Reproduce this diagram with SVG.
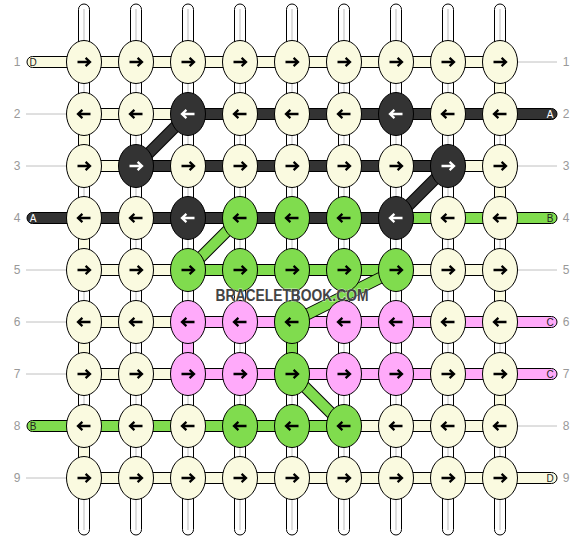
<svg xmlns="http://www.w3.org/2000/svg" xmlns:xlink="http://www.w3.org/1999/xlink" width="584" height="540" viewBox="0 0 584 540">
<style>
.c{fill:#FAFAE0}.k{fill:#333333}.g{fill:#80DC4E}.p{fill:#FFAAFA}
.s{stroke:#000;stroke-width:1}
.warp{fill:#fff;stroke:#000;stroke-width:1}
.wl{stroke:#c8c8c8;stroke-width:1.2}
.gl{stroke:#c0c0c0;stroke-width:1}
.lab{font-family:"Liberation Sans",Arial,sans-serif;font-size:12px;fill:#999;text-anchor:middle}
.el{font-family:"Liberation Sans",Arial,sans-serif;font-size:10px;text-anchor:middle}
.do{stroke:#000;stroke-width:12;stroke-linecap:butt}
use{stroke:#000}
.w use,use.w{stroke:#fff}
</style>
<defs>
<path id="ar" d="M-6.5,0H5.5M1.6,-4.2L6,0L1.6,4.2" fill="none" stroke-width="2.3"/>
<path id="al" d="M6.5,0H-5.5M-1.6,-4.2L-6,0L-1.6,4.2" fill="none" stroke-width="2.3"/>
</defs>
<rect width="584" height="540" fill="#fff"/>
<g id="warps">
<rect class="warp" x="78.5" y="4" width="11" height="531" rx="5.5"/><line class="wl" x1="84" y1="9" x2="84" y2="530"/>
<rect class="warp" x="130.5" y="4" width="11" height="531" rx="5.5"/><line class="wl" x1="136" y1="9" x2="136" y2="530"/>
<rect class="warp" x="182.5" y="4" width="11" height="531" rx="5.5"/><line class="wl" x1="188" y1="9" x2="188" y2="530"/>
<rect class="warp" x="234.5" y="4" width="11" height="531" rx="5.5"/><line class="wl" x1="240" y1="9" x2="240" y2="530"/>
<rect class="warp" x="286.5" y="4" width="11" height="531" rx="5.5"/><line class="wl" x1="292" y1="9" x2="292" y2="530"/>
<rect class="warp" x="338.5" y="4" width="11" height="531" rx="5.5"/><line class="wl" x1="344" y1="9" x2="344" y2="530"/>
<rect class="warp" x="390.5" y="4" width="11" height="531" rx="5.5"/><line class="wl" x1="396" y1="9" x2="396" y2="530"/>
<rect class="warp" x="442.5" y="4" width="11" height="531" rx="5.5"/><line class="wl" x1="448" y1="9" x2="448" y2="530"/>
<rect class="warp" x="494.5" y="4" width="11" height="531" rx="5.5"/><line class="wl" x1="500" y1="9" x2="500" y2="530"/>
</g>
<g id="connectors">
<!-- vertical turns -->
<rect class="c s" x="494.5" y="62" width="11" height="52"/>
<rect class="c s" x="78.5" y="114" width="11" height="52"/>
<rect class="c s" x="494.5" y="166" width="11" height="52"/>
<rect class="c s" x="78.5" y="218" width="11" height="52"/>
<rect class="c s" x="494.5" y="270" width="11" height="52"/>
<rect class="c s" x="78.5" y="322" width="11" height="52"/>
<rect class="c s" x="494.5" y="374" width="11" height="52"/>
<rect class="c s" x="78.5" y="426" width="11" height="52"/>
<rect class="g s" x="286.5" y="322" width="11" height="52"/>
<rect class="p s" x="182.5" y="322" width="11" height="52"/>
<!-- side lines -->
<line class="gl" x1="518" y1="62" x2="557" y2="62"/>
<line class="gl" x1="26" y1="114" x2="66" y2="114"/>
<line class="gl" x1="26" y1="166" x2="66" y2="166"/>
<line class="gl" x1="518" y1="166" x2="557" y2="166"/>
<line class="gl" x1="26" y1="270" x2="66" y2="270"/>
<line class="gl" x1="518" y1="270" x2="557" y2="270"/>
<line class="gl" x1="26" y1="322" x2="66" y2="322"/>
<line class="gl" x1="26" y1="374" x2="66" y2="374"/>
<line class="gl" x1="518" y1="426" x2="557" y2="426"/>
<line class="gl" x1="26" y1="478" x2="66" y2="478"/>
<!-- horizontal runs -->
<rect class="c s" x="27" y="56.5" width="478" height="11" rx="5.5"/>
<rect class="c s" x="84" y="108.5" width="104" height="11"/>
<rect class="k s" x="188" y="108.5" width="369" height="11" rx="5.5"/>
<rect class="c s" x="84" y="160.5" width="52" height="11"/>
<rect class="k s" x="136" y="160.5" width="312" height="11"/>
<rect class="c s" x="448" y="160.5" width="52" height="11"/>
<rect class="k s" x="27" y="212.5" width="369" height="11" rx="5.5"/>
<rect class="g s" x="396" y="212.5" width="161" height="11" rx="5.5"/>
<rect class="c s" x="84" y="264.5" width="104" height="11"/>
<rect class="g s" x="188" y="264.5" width="208" height="11"/>
<rect class="c s" x="396" y="264.5" width="104" height="11"/>
<rect class="c s" x="84" y="316.5" width="104" height="11"/>
<rect class="p s" x="188" y="316.5" width="369" height="11" rx="5.5"/>
<rect class="c s" x="84" y="368.5" width="104" height="11"/>
<rect class="p s" x="188" y="368.5" width="369" height="11" rx="5.5"/>
<rect class="g s" x="27" y="420.5" width="317" height="11" rx="5.5"/>
<rect class="c s" x="344" y="420.5" width="156" height="11"/>
<rect class="c s" x="84" y="472.5" width="473" height="11" rx="5.5"/>
<!-- diagonals -->
<line class="do" x1="136" y1="166" x2="188" y2="114"/><line stroke="#333" stroke-width="10" x1="136" y1="166" x2="188" y2="114"/>
<line class="do" x1="396" y1="218" x2="448" y2="166"/><line stroke="#333" stroke-width="10" x1="396" y1="218" x2="448" y2="166"/>
<line class="do" x1="188" y1="270" x2="240" y2="218"/><line stroke="#80DC4E" stroke-width="10" x1="188" y1="270" x2="240" y2="218"/>
<line class="do" x1="292" y1="322" x2="396" y2="270"/><line stroke="#80DC4E" stroke-width="10" x1="292" y1="322" x2="396" y2="270"/>
<line class="do" x1="292" y1="374" x2="344" y2="426"/><line stroke="#80DC4E" stroke-width="10" x1="292" y1="374" x2="344" y2="426"/>
<!-- end labels -->
<text class="el" x="33" y="65.5" fill="#222">D</text>
<text class="el" x="550" y="117.5" fill="#fff">A</text>
<text class="el" x="33" y="221.5" fill="#fff">A</text>
<text class="el" x="550" y="221.5" fill="#222">B</text>
<text class="el" x="550" y="325.5" fill="#222">C</text>
<text class="el" x="550" y="377.5" fill="#222">C</text>
<text class="el" x="33" y="429.5" fill="#222">B</text>
<text class="el" x="550" y="481.5" fill="#222">D</text>
</g>
<g id="nodes">
<g id="r1c1"><ellipse class="c s" cx="84" cy="62" rx="17.5" ry="21.5"/><use href="#ar" x="84" y="62"/></g>
<g id="r1c2"><ellipse class="c s" cx="136" cy="62" rx="17.5" ry="21.5"/><use href="#ar" x="136" y="62"/></g>
<g id="r1c3"><ellipse class="c s" cx="188" cy="62" rx="17.5" ry="21.5"/><use href="#ar" x="188" y="62"/></g>
<g id="r1c4"><ellipse class="c s" cx="240" cy="62" rx="17.5" ry="21.5"/><use href="#ar" x="240" y="62"/></g>
<g id="r1c5"><ellipse class="c s" cx="292" cy="62" rx="17.5" ry="21.5"/><use href="#ar" x="292" y="62"/></g>
<g id="r1c6"><ellipse class="c s" cx="344" cy="62" rx="17.5" ry="21.5"/><use href="#ar" x="344" y="62"/></g>
<g id="r1c7"><ellipse class="c s" cx="396" cy="62" rx="17.5" ry="21.5"/><use href="#ar" x="396" y="62"/></g>
<g id="r1c8"><ellipse class="c s" cx="448" cy="62" rx="17.5" ry="21.5"/><use href="#ar" x="448" y="62"/></g>
<g id="r1c9"><ellipse class="c s" cx="500" cy="62" rx="17.5" ry="21.5"/><use href="#ar" x="500" y="62"/></g>

<g id="r2c1"><ellipse class="c s" cx="84" cy="114" rx="17.5" ry="21.5"/><use href="#al" x="84" y="114"/></g>
<g id="r2c2"><ellipse class="c s" cx="136" cy="114" rx="17.5" ry="21.5"/><use href="#al" x="136" y="114"/></g>
<g id="r2c3"><ellipse class="k s" cx="188" cy="114" rx="17.5" ry="21.5"/><use class="w" href="#al" x="188" y="114"/></g>
<g id="r2c4"><ellipse class="c s" cx="240" cy="114" rx="17.5" ry="21.5"/><use href="#al" x="240" y="114"/></g>
<g id="r2c5"><ellipse class="c s" cx="292" cy="114" rx="17.5" ry="21.5"/><use href="#al" x="292" y="114"/></g>
<g id="r2c6"><ellipse class="c s" cx="344" cy="114" rx="17.5" ry="21.5"/><use href="#al" x="344" y="114"/></g>
<g id="r2c7"><ellipse class="k s" cx="396" cy="114" rx="17.5" ry="21.5"/><use class="w" href="#al" x="396" y="114"/></g>
<g id="r2c8"><ellipse class="c s" cx="448" cy="114" rx="17.5" ry="21.5"/><use href="#al" x="448" y="114"/></g>
<g id="r2c9"><ellipse class="c s" cx="500" cy="114" rx="17.5" ry="21.5"/><use href="#al" x="500" y="114"/></g>

<g id="r3c1"><ellipse class="c s" cx="84" cy="166" rx="17.5" ry="21.5"/><use href="#ar" x="84" y="166"/></g>
<g id="r3c2"><ellipse class="k s" cx="136" cy="166" rx="17.5" ry="21.5"/><use class="w" href="#ar" x="136" y="166"/></g>
<g id="r3c3"><ellipse class="c s" cx="188" cy="166" rx="17.5" ry="21.5"/><use href="#ar" x="188" y="166"/></g>
<g id="r3c4"><ellipse class="c s" cx="240" cy="166" rx="17.5" ry="21.5"/><use href="#ar" x="240" y="166"/></g>
<g id="r3c5"><ellipse class="c s" cx="292" cy="166" rx="17.5" ry="21.5"/><use href="#ar" x="292" y="166"/></g>
<g id="r3c6"><ellipse class="c s" cx="344" cy="166" rx="17.5" ry="21.5"/><use href="#ar" x="344" y="166"/></g>
<g id="r3c7"><ellipse class="c s" cx="396" cy="166" rx="17.5" ry="21.5"/><use href="#ar" x="396" y="166"/></g>
<g id="r3c8"><ellipse class="k s" cx="448" cy="166" rx="17.5" ry="21.5"/><use class="w" href="#ar" x="448" y="166"/></g>
<g id="r3c9"><ellipse class="c s" cx="500" cy="166" rx="17.5" ry="21.5"/><use href="#ar" x="500" y="166"/></g>

<g id="r4c1"><ellipse class="c s" cx="84" cy="218" rx="17.5" ry="21.5"/><use href="#al" x="84" y="218"/></g>
<g id="r4c2"><ellipse class="c s" cx="136" cy="218" rx="17.5" ry="21.5"/><use href="#al" x="136" y="218"/></g>
<g id="r4c3"><ellipse class="k s" cx="188" cy="218" rx="17.5" ry="21.5"/><use class="w" href="#al" x="188" y="218"/></g>
<g id="r4c4"><ellipse class="g s" cx="240" cy="218" rx="17.5" ry="21.5"/><use href="#al" x="240" y="218"/></g>
<g id="r4c5"><ellipse class="g s" cx="292" cy="218" rx="17.5" ry="21.5"/><use href="#al" x="292" y="218"/></g>
<g id="r4c6"><ellipse class="g s" cx="344" cy="218" rx="17.5" ry="21.5"/><use href="#al" x="344" y="218"/></g>
<g id="r4c7"><ellipse class="k s" cx="396" cy="218" rx="17.5" ry="21.5"/><use class="w" href="#al" x="396" y="218"/></g>
<g id="r4c8"><ellipse class="c s" cx="448" cy="218" rx="17.5" ry="21.5"/><use href="#al" x="448" y="218"/></g>
<g id="r4c9"><ellipse class="c s" cx="500" cy="218" rx="17.5" ry="21.5"/><use href="#al" x="500" y="218"/></g>

<g id="r5c1"><ellipse class="c s" cx="84" cy="270" rx="17.5" ry="21.5"/><use href="#ar" x="84" y="270"/></g>
<g id="r5c2"><ellipse class="c s" cx="136" cy="270" rx="17.5" ry="21.5"/><use href="#ar" x="136" y="270"/></g>
<g id="r5c3"><ellipse class="g s" cx="188" cy="270" rx="17.5" ry="21.5"/><use href="#ar" x="188" y="270"/></g>
<g id="r5c4"><ellipse class="g s" cx="240" cy="270" rx="17.5" ry="21.5"/><use href="#ar" x="240" y="270"/></g>
<g id="r5c5"><ellipse class="g s" cx="292" cy="270" rx="17.5" ry="21.5"/><use href="#ar" x="292" y="270"/></g>
<g id="r5c6"><ellipse class="g s" cx="344" cy="270" rx="17.5" ry="21.5"/><use href="#ar" x="344" y="270"/></g>
<g id="r5c7"><ellipse class="g s" cx="396" cy="270" rx="17.5" ry="21.5"/><use href="#ar" x="396" y="270"/></g>
<g id="r5c8"><ellipse class="c s" cx="448" cy="270" rx="17.5" ry="21.5"/><use href="#ar" x="448" y="270"/></g>
<g id="r5c9"><ellipse class="c s" cx="500" cy="270" rx="17.5" ry="21.5"/><use href="#ar" x="500" y="270"/></g>

<g id="r6c1"><ellipse class="c s" cx="84" cy="322" rx="17.5" ry="21.5"/><use href="#al" x="84" y="322"/></g>
<g id="r6c2"><ellipse class="c s" cx="136" cy="322" rx="17.5" ry="21.5"/><use href="#al" x="136" y="322"/></g>
<g id="r6c3"><ellipse class="p s" cx="188" cy="322" rx="17.5" ry="21.5"/><use href="#al" x="188" y="322"/></g>
<g id="r6c4"><ellipse class="p s" cx="240" cy="322" rx="17.5" ry="21.5"/><use href="#al" x="240" y="322"/></g>
<g id="r6c5"><ellipse class="g s" cx="292" cy="322" rx="17.5" ry="21.5"/><use href="#al" x="292" y="322"/></g>
<g id="r6c6"><ellipse class="p s" cx="344" cy="322" rx="17.5" ry="21.5"/><use href="#al" x="344" y="322"/></g>
<g id="r6c7"><ellipse class="p s" cx="396" cy="322" rx="17.5" ry="21.5"/><use href="#al" x="396" y="322"/></g>
<g id="r6c8"><ellipse class="c s" cx="448" cy="322" rx="17.5" ry="21.5"/><use href="#al" x="448" y="322"/></g>
<g id="r6c9"><ellipse class="c s" cx="500" cy="322" rx="17.5" ry="21.5"/><use href="#al" x="500" y="322"/></g>

<g id="r7c1"><ellipse class="c s" cx="84" cy="374" rx="17.5" ry="21.5"/><use href="#ar" x="84" y="374"/></g>
<g id="r7c2"><ellipse class="c s" cx="136" cy="374" rx="17.5" ry="21.5"/><use href="#ar" x="136" y="374"/></g>
<g id="r7c3"><ellipse class="p s" cx="188" cy="374" rx="17.5" ry="21.5"/><use href="#ar" x="188" y="374"/></g>
<g id="r7c4"><ellipse class="p s" cx="240" cy="374" rx="17.5" ry="21.5"/><use href="#ar" x="240" y="374"/></g>
<g id="r7c5"><ellipse class="g s" cx="292" cy="374" rx="17.5" ry="21.5"/><use href="#ar" x="292" y="374"/></g>
<g id="r7c6"><ellipse class="p s" cx="344" cy="374" rx="17.5" ry="21.5"/><use href="#ar" x="344" y="374"/></g>
<g id="r7c7"><ellipse class="p s" cx="396" cy="374" rx="17.5" ry="21.5"/><use href="#ar" x="396" y="374"/></g>
<g id="r7c8"><ellipse class="c s" cx="448" cy="374" rx="17.5" ry="21.5"/><use href="#ar" x="448" y="374"/></g>
<g id="r7c9"><ellipse class="c s" cx="500" cy="374" rx="17.5" ry="21.5"/><use href="#ar" x="500" y="374"/></g>

<g id="r8c1"><ellipse class="c s" cx="84" cy="426" rx="17.5" ry="21.5"/><use href="#al" x="84" y="426"/></g>
<g id="r8c2"><ellipse class="c s" cx="136" cy="426" rx="17.5" ry="21.5"/><use href="#al" x="136" y="426"/></g>
<g id="r8c3"><ellipse class="c s" cx="188" cy="426" rx="17.5" ry="21.5"/><use href="#al" x="188" y="426"/></g>
<g id="r8c4"><ellipse class="g s" cx="240" cy="426" rx="17.5" ry="21.5"/><use href="#al" x="240" y="426"/></g>
<g id="r8c5"><ellipse class="g s" cx="292" cy="426" rx="17.5" ry="21.5"/><use href="#al" x="292" y="426"/></g>
<g id="r8c6"><ellipse class="g s" cx="344" cy="426" rx="17.5" ry="21.5"/><use href="#al" x="344" y="426"/></g>
<g id="r8c7"><ellipse class="c s" cx="396" cy="426" rx="17.5" ry="21.5"/><use href="#al" x="396" y="426"/></g>
<g id="r8c8"><ellipse class="c s" cx="448" cy="426" rx="17.5" ry="21.5"/><use href="#al" x="448" y="426"/></g>
<g id="r8c9"><ellipse class="c s" cx="500" cy="426" rx="17.5" ry="21.5"/><use href="#al" x="500" y="426"/></g>

<g id="r9c1"><ellipse class="c s" cx="84" cy="478" rx="17.5" ry="21.5"/><use href="#ar" x="84" y="478"/></g>
<g id="r9c2"><ellipse class="c s" cx="136" cy="478" rx="17.5" ry="21.5"/><use href="#ar" x="136" y="478"/></g>
<g id="r9c3"><ellipse class="c s" cx="188" cy="478" rx="17.5" ry="21.5"/><use href="#ar" x="188" y="478"/></g>
<g id="r9c4"><ellipse class="c s" cx="240" cy="478" rx="17.5" ry="21.5"/><use href="#ar" x="240" y="478"/></g>
<g id="r9c5"><ellipse class="c s" cx="292" cy="478" rx="17.5" ry="21.5"/><use href="#ar" x="292" y="478"/></g>
<g id="r9c6"><ellipse class="c s" cx="344" cy="478" rx="17.5" ry="21.5"/><use href="#ar" x="344" y="478"/></g>
<g id="r9c7"><ellipse class="c s" cx="396" cy="478" rx="17.5" ry="21.5"/><use href="#ar" x="396" y="478"/></g>
<g id="r9c8"><ellipse class="c s" cx="448" cy="478" rx="17.5" ry="21.5"/><use href="#ar" x="448" y="478"/></g>
<g id="r9c9"><ellipse class="c s" cx="500" cy="478" rx="17.5" ry="21.5"/><use href="#ar" x="500" y="478"/></g>
</g>
<g id="rowlabels">
<text class="lab" x="17" y="66">1</text><text class="lab" x="566" y="66">1</text>
<text class="lab" x="17" y="118">2</text><text class="lab" x="566" y="118">2</text>
<text class="lab" x="17" y="170">3</text><text class="lab" x="566" y="170">3</text>
<text class="lab" x="17" y="222">4</text><text class="lab" x="566" y="222">4</text>
<text class="lab" x="17" y="274">5</text><text class="lab" x="566" y="274">5</text>
<text class="lab" x="17" y="326">6</text><text class="lab" x="566" y="326">6</text>
<text class="lab" x="17" y="378">7</text><text class="lab" x="566" y="378">7</text>
<text class="lab" x="17" y="430">8</text><text class="lab" x="566" y="430">8</text>
<text class="lab" x="17" y="482">9</text><text class="lab" x="566" y="482">9</text>
</g>
<text id="watermark" x="292" y="301" font-family="'Liberation Sans',Arial,sans-serif" font-weight="bold" font-size="16" text-anchor="middle" textLength="153" lengthAdjust="spacingAndGlyphs" fill="#444" stroke="#fff" stroke-opacity="0.6" stroke-width="1.2" paint-order="stroke">BRACELETBOOK.COM</text>
</svg>
